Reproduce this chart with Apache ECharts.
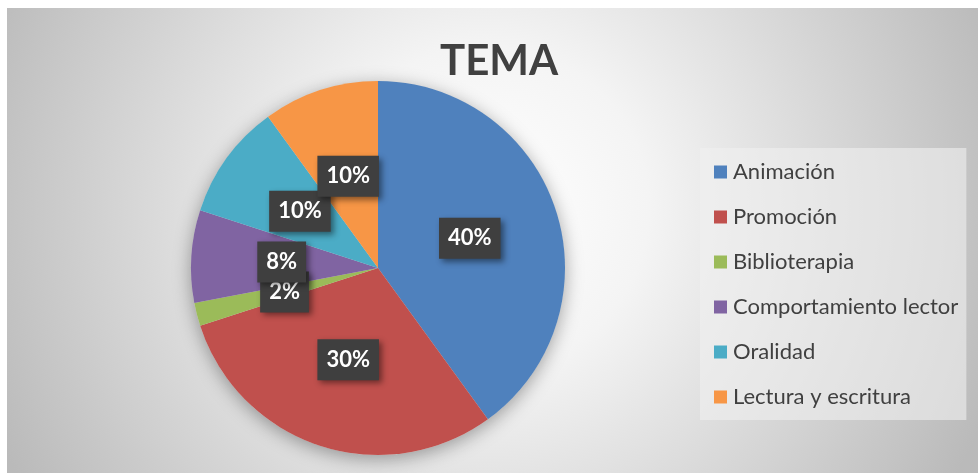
<!DOCTYPE html>
<html>
<head>
<meta charset="utf-8">
<script src="https://cdn.jsdelivr.net/npm/echarts@6/dist/echarts.min.js"></script>
<style>
  html, body { margin: 0; padding: 0; background: #fff; }
  #container { position: absolute; left: 7px; top: 8px; width: 971px; height: 465px; }
</style>
</head>
<body>
<div id="container"></div>
<script>
var categories = [
  "Animación",
  "Promoción",
  "Biblioterapia",
  "Comportamiento lector",
  "Oralidad",
  "Lectura y escritura",
];
var values = [40, 30, 2, 8, 10, 10];
var colors = ["#4f81bd", "#c0504d", "#9bbb59", "#8064a2", "#4bacc6", "#f79646"];

var dom = document.getElementById("container");
var myChart = echarts.init(dom, null, { renderer: "canvas" });

var option = {
  backgroundColor: {
    type: "radial",
    x: 480,
    y: 200,
    r: 540,
    global: true,
    colorStops: [
      { offset: 0, color: "#ffffff" },
      { offset: 0.3, color: "#f4f4f4" },
      { offset: 1, color: "#bababa" },
    ],
  },
  animation: false,
  title: {
    text: "TEMA",
    left: 428,
    top: 27,
    textStyle: {
      fontFamily: "Lato",
      fontSize: 42,
      fontWeight: "bold",
      color: "#404040",
    },
  },
  legend: {
    orient: "vertical",
    left: 693,
    top: 140,
    padding: [13, 8, 12, 14],
    backgroundColor: "rgba(240,240,240,0.6)",
    itemWidth: 13,
    itemHeight: 13,
    itemGap: 23,
    icon: "rect",
    data: categories,
    textStyle: {
      fontFamily: "Lato",
      fontSize: 22,
      lineHeight: 22,
      color: "#404040",
      padding: [0, 0, 0, 1],
    },
  },
  series: [
    {
      // sombra del pastel
      type: "pie",
      silent: true,
      center: [371, 260],
      radius: 187,
      z: 1,
      label: { show: false },
      labelLine: { show: false },
      itemStyle: {
        color: "#d9d9d9",
        shadowBlur: 18,
        shadowColor: "rgba(0,0,0,0.35)",
        shadowOffsetY: 4,
      },
      data: [{ value: 1, name: "_sombra" }],
    },
    {
      type: "pie",
      center: [371, 260],
      radius: 187,
      startAngle: 90,
      clockwise: true,
      avoidLabelOverlap: false,
      z: 2,
      data: categories.map(function (c, i) {
        return { name: c, value: values[i], itemStyle: { color: colors[i] } };
      }),
      label: {
        show: true,
        position: "inside",
        formatter: "{c}%",
        fontFamily: "Lato",
        fontSize: 22,
        fontWeight: "bold",
        color: "#ffffff",
        backgroundColor: "#3f3f3f",
        padding: [10, 9, 9, 9],
        shadowBlur: 6,
        shadowOffsetX: 3,
        shadowOffsetY: 3,
        shadowColor: "rgba(0,0,0,0.45)",
      },
      labelLayout: { hideOverlap: false },
      labelLine: { show: false },
      emphasis: { disabled: true },
    },
  ],
};

myChart.setOption(option);
window.addEventListener("resize", myChart.resize);
</script>
</body>
</html>
